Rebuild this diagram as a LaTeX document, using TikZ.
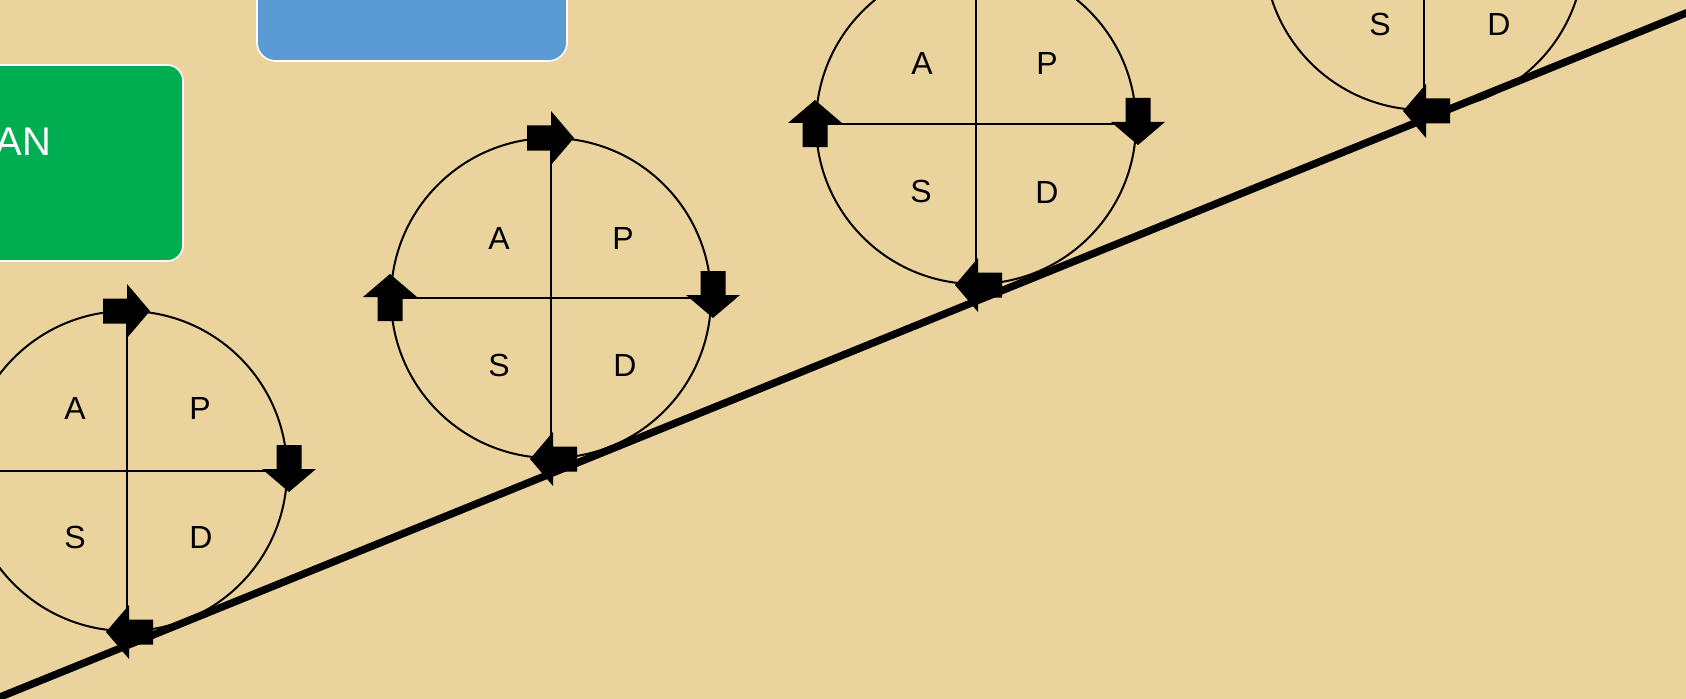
\documentclass[tikz,border=0pt]{standalone}
\usepackage{fontspec}
\setmainfont{Liberation Sans}
\tikzset{every picture/.style={line width=0.75pt}}
\tikzset{
  blockarrow/.style={fill={rgb, 255:red, 0; green, 0; blue, 0 }, draw opacity=0},
  quadlabel/.style={inner sep=0.75pt, font=\fontsize{24}{28}\selectfont},
  cycleline/.style={line width=1.5},
  crossline/.style={line width=1},
}

\begin{document}
\begin{tikzpicture}[x=0.75pt,y=0.75pt,yscale=-1,xscale=1]
\useasboundingbox (0,0) rectangle (1686,699);
%Background
\fill [color={rgb, 255:red, 235; green, 211; blue, 158 }] (0,0) rectangle (1686,699);
\clip (0,0) rectangle (1686,699);

%Rounded Rect
\draw [color=white, fill={rgb, 255:red, 0; green, 173; blue, 80 }, line width=1.2, rounded corners=12pt] (-40,65) rectangle (183,261);
%Rounded Rect
\draw [color=white, fill={rgb, 255:red, 91; green, 155; blue, 213 }, line width=1.2, rounded corners=14pt] (257,-40) rectangle (567,61);

%Straight Lines (slope)
\coordinate (slopeL) at (-10,701.1);
\coordinate (slopeR) at (1700,7.4);
\draw [line width=5.6] (slopeL) -- (slopeR);

%Shape: Circle 1
\draw [cycleline] (127,471) circle [radius=160];
\draw [crossline] (-33,471) -- (287,471);
\draw [crossline] (127,311) -- (127,631);
\draw [shift={(127,311)}, rotate = 0] [blockarrow] (-24,-12.5) -- (0,-12.5) -- (0,-27) -- (23,0) -- (0,27) -- (0,12.5) -- (-24,12.5) -- cycle ;
\draw [shift={(289,469)}, rotate = 90] [blockarrow] (-24,-12.5) -- (0,-12.5) -- (0,-27) -- (23,0) -- (0,27) -- (0,12.5) -- (-24,12.5) -- cycle ;
\draw [shift={(129,632)}, rotate = 180] [blockarrow] (-24,-12.5) -- (0,-12.5) -- (0,-27) -- (23,0) -- (0,27) -- (0,12.5) -- (-24,12.5) -- cycle ;
\draw [shift={(-34,470)}, rotate = 270] [blockarrow] (-24,-12.5) -- (0,-12.5) -- (0,-27) -- (23,0) -- (0,27) -- (0,12.5) -- (-24,12.5) -- cycle ;

%Shape: Circle 2
\draw [cycleline] (551,298) circle [radius=160];
\draw [crossline] (391,298) -- (711,298);
\draw [crossline] (551,138) -- (551,458);
\draw [shift={(551,138)}, rotate = 0] [blockarrow] (-24,-12.5) -- (0,-12.5) -- (0,-27) -- (23,0) -- (0,27) -- (0,12.5) -- (-24,12.5) -- cycle ;
\draw [shift={(713,295)}, rotate = 90] [blockarrow] (-24,-12.5) -- (0,-12.5) -- (0,-27) -- (23,0) -- (0,27) -- (0,12.5) -- (-24,12.5) -- cycle ;
\draw [shift={(553,459)}, rotate = 180] [blockarrow] (-24,-12.5) -- (0,-12.5) -- (0,-27) -- (23,0) -- (0,27) -- (0,12.5) -- (-24,12.5) -- cycle ;
\draw [shift={(390,297)}, rotate = 270] [blockarrow] (-24,-12.5) -- (0,-12.5) -- (0,-27) -- (23,0) -- (0,27) -- (0,12.5) -- (-24,12.5) -- cycle ;

%Shape: Circle 3
\draw [cycleline] (976,124) circle [radius=160];
\draw [crossline] (816,124) -- (1136,124);
\draw [crossline] (976,-36) -- (976,284);
\draw [shift={(976,-36)}, rotate = 0] [blockarrow] (-24,-12.5) -- (0,-12.5) -- (0,-27) -- (23,0) -- (0,27) -- (0,12.5) -- (-24,12.5) -- cycle ;
\draw [shift={(1138,122)}, rotate = 90] [blockarrow] (-24,-12.5) -- (0,-12.5) -- (0,-27) -- (23,0) -- (0,27) -- (0,12.5) -- (-24,12.5) -- cycle ;
\draw [shift={(978,285)}, rotate = 180] [blockarrow] (-24,-12.5) -- (0,-12.5) -- (0,-27) -- (23,0) -- (0,27) -- (0,12.5) -- (-24,12.5) -- cycle ;
\draw [shift={(815,123)}, rotate = 270] [blockarrow] (-24,-12.5) -- (0,-12.5) -- (0,-27) -- (23,0) -- (0,27) -- (0,12.5) -- (-24,12.5) -- cycle ;

%Shape: Circle 4
\draw [cycleline] (1424,-50) circle [radius=160];
\draw [crossline] (1424,-210) -- (1424,110);
\draw [shift={(1426,111)}, rotate = 180] [blockarrow] (-24,-12.5) -- (0,-12.5) -- (0,-27) -- (23,0) -- (0,27) -- (0,12.5) -- (-24,12.5) -- cycle ;

% Text Node
\node [anchor=east, inner sep=0pt, text=white, font=\fontsize{30}{36}\selectfont] (planLbl) at (52,141.5) {AN};

% Text Node
\node [quadlabel] (a1) at (75,408) {A};
% Text Node
\node [quadlabel] (p1) at (200,408) {P};
% Text Node
\node [quadlabel] (s1) at (75,537) {S};
% Text Node
\node [quadlabel] (d1) at (201,537) {D};
% Text Node
\node [quadlabel] (a2) at (499,238) {A};
% Text Node
\node [quadlabel] (p2) at (623,238) {P};
% Text Node
\node [quadlabel] (s2) at (499,365) {S};
% Text Node
\node [quadlabel] (d2) at (625,365) {D};
% Text Node
\node [quadlabel] (a3) at (922,63) {A};
% Text Node
\node [quadlabel] (p3) at (1047,63) {P};
% Text Node
\node [quadlabel] (s3) at (921,191) {S};
% Text Node
\node [quadlabel] (d3) at (1047,192) {D};
% Text Node
\node [quadlabel] (s4) at (1380,24) {S};
% Text Node
\node [quadlabel] (d4) at (1499,24) {D};

\end{tikzpicture}
\end{document}
